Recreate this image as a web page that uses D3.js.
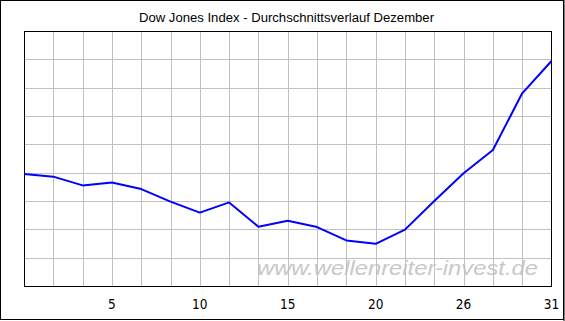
<!DOCTYPE html>
<html>
<head>
<meta charset="utf-8">
<script src="https://cdn.jsdelivr.net/npm/d3@7"></script>
<style>
  body { margin: 0; background: #fff; }
  svg { display: block; }
</style>
</head>
<body>
<svg width="565" height="321"></svg>
<script>
(function () {
    'use strict';

    // data (y in grid units, 0..9)
    var points = d3.range(19);
    var values = [3.95, 3.86, 3.55, 3.65, 3.42, 2.98, 2.59, 2.95, 2.09, 2.30,
                  2.08, 1.61, 1.49, 1.99, 3.00, 3.98, 4.80, 6.80, 7.94];
    var tickPos = [3, 6, 9, 12, 15, 18];
    var tickLabels = ['5', '10', '15', '20', '26', '31'];
    var title = 'Dow Jones Index - Durchschnittsverlauf Dezember';

    var svg = d3.select('svg');
    var width = +svg.attr('width');
    var height = +svg.attr('height');

    var left = 24, right = 551.5, top = 31, bottom = 286;

    var x = d3.scaleLinear().domain([0, 18]).range([left, right]);
    var y = d3.scaleLinear().domain([0, 9]).range([bottom, top]);

    // outer frame
    svg.append('rect')
        .attr('x', 0.5).attr('y', 0.5)
        .attr('width', width - 2).attr('height', height - 2)
        .attr('fill', '#fff')
        .attr('stroke', '#000');
    svg.append('path')
        .attr('d', 'M' + (width - 1) + ',0V' + height)
        .attr('stroke', '#000');

    // title
    var t = svg.append('text')
        .attr('x', 286.5)
        .attr('y', 22)
        .attr('text-anchor', 'middle')
        .style('font-family', 'Liberation Sans, Arial, sans-serif')
        .style('font-size', '12.5px')
        .attr('fill', '#000')
        .text(title);
    t.attr('textLength', 295).attr('lengthAdjust', 'spacingAndGlyphs');

    // watermark
    svg.append('text')
        .attr('x', 257)
        .attr('y', 275)
        .style('font-family', 'Liberation Sans, Arial, sans-serif')
        .style('font-style', 'italic')
        .style('font-size', '20px')
        .attr('fill', '#c8c8c8')
        .attr('textLength', 281)
        .attr('lengthAdjust', 'spacingAndGlyphs')
        .text('www.wellenreiter-invest.de');

    // grid
    var grid = svg.append('g')
        .attr('stroke', '#c0c0c0')
        .attr('stroke-width', 1)
        .attr('shape-rendering', 'crispEdges');
    grid.selectAll('.vx')
        .data(d3.range(1, 18))
        .join('line')
        .attr('x1', function (d) { return Math.round(x(d)) + 0.5; })
        .attr('x2', function (d) { return Math.round(x(d)) + 0.5; })
        .attr('y1', top).attr('y2', bottom);
    grid.selectAll('.hy')
        .data(d3.range(1, 9))
        .join('line')
        .attr('y1', function (d) { return Math.round(y(d)) + 0.5; })
        .attr('y2', function (d) { return Math.round(y(d)) + 0.5; })
        .attr('x1', left).attr('x2', right);

    // plot border
    svg.append('rect')
        .attr('x', left + 0.5).attr('y', top + 0.5)
        .attr('width', right - left - 1).attr('height', bottom - top)
        .attr('fill', 'none')
        .attr('stroke', '#000')
        .attr('shape-rendering', 'crispEdges');

    // x tick labels
    svg.append('g')
        .selectAll('text')
        .data(tickPos)
        .join('text')
        .attr('x', function (d) { return x(d); })
        .attr('y', 309)
        .attr('text-anchor', 'middle')
        .style('font-family', 'Liberation Sans Narrow, DejaVu Sans Condensed, sans-serif')
        .style('font-size', '13.5px')
        .attr('fill', '#000')
        .text(function (d, i) { return tickLabels[i]; });

    // line
    var line = d3.line()
        .x(function (d) { return x(d); })
        .y(function (d, i) { return y(values[i]); });
    svg.append('path')
        .datum(points)
        .attr('d', line)
        .attr('fill', 'none')
        .attr('stroke', '#0000ff')
        .attr('stroke-width', 2)
        .attr('stroke-linejoin', 'round');

}());
</script>
</body>
</html>
